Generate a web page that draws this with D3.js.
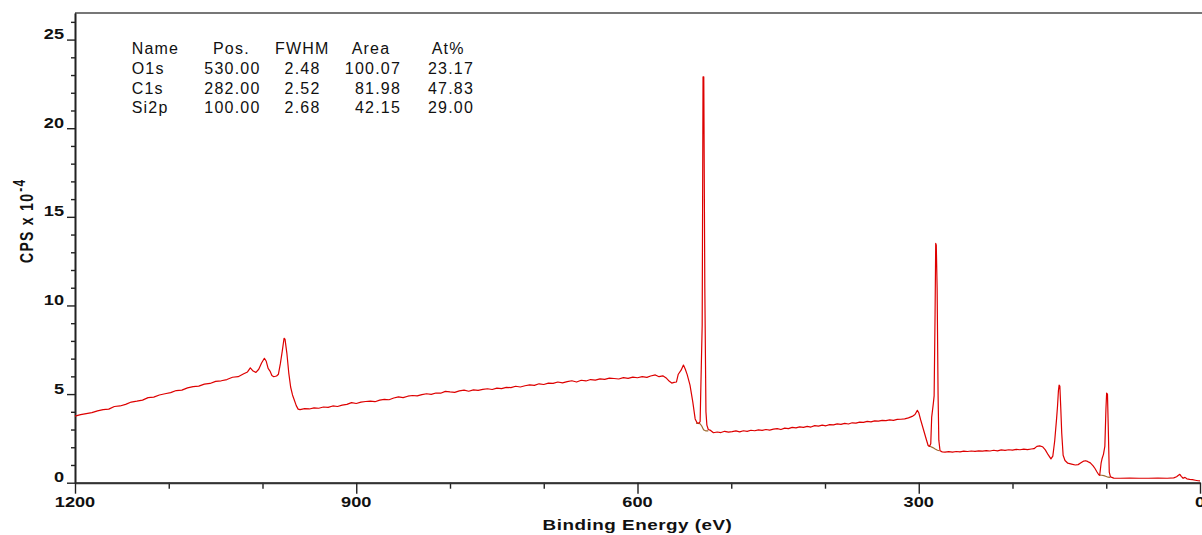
<!DOCTYPE html>
<html><head><meta charset="utf-8">
<script src="https://cdn.jsdelivr.net/npm/d3@7"></script>
<style>
html,body{margin:0;padding:0;background:#fff;}
svg{display:block;}
text{font-family:"Liberation Sans",Arial,sans-serif;}
</style></head>
<body>
<svg id="chart" width="1202" height="535"></svg>
<script>
// ---------- data (binding energy in eV, intensity in CPS x 10^-4) ----------
const energyEV = [
1200,1194,1188,1182,1176,1170,1164,1158,1152,1146,1140,1134,1128,1122,1116,1110,1104,1098,1092,1086,1080,1074,1068,1062,1056,1050,1044,1038,1032,1026,1020,1016,1013,1010,1007,1004,1001,998,996,994,992,990,988,985,983,981,979,977,976,974,972,970,968,966,964,962,960,
955,950,945,940,935,930,925,920,915,910,905,900,895,890,885,880,875,870,865,860,855,850,845,840,835,830,825,820,815,810,805,800,795,790,785,780,775,770,765,760,755,750,745,740,735,730,725,720,715,710,705,700,695,690,685,680,675,670,665,660,655,650,645,640,635,630,625,620,615,610,605,600,595,590,
586,581,577,573,569,566,563.5,561,558.5,556.5,553.5,551,549,547,544,541,538.5,536.5,534.5,533.2,532.2,531,530.1,529.3,528.2,527,526,524.5,522,
519,515,511,507,503,499,495,491,487,483,479,475,471,467,463,459,455,451,447,443,439,435,431,427,423,419,415,411,407,403,399,395,391,387,383,379,375,371,367,363,359,355,351,347,343,339,335,331,327,323,319,315,311,307,304,301.5,300,298,295,292,290,288.5,287.2,286.2,284.5,283.6,282.6,281.9,281.3,280.4,279.4,278.6,277.3,
275,272,268,264,260,256,252,248,244,240,236,232,228,224,220,216,212,208,204,200,196,192,188,184,180,177,174,171,168,165,162,159,157,155,153,152,151,150.3,149.5,148.5,147.5,146,144,141,137,133,130,127,124,122,120,117,114,112,110,108,107,105.5,104.5,103,101.5,100.3,99.6,98.7,97.8,96.8,95.5,92,85,75,65,55,45,35,28,25,23,21.5,20,18,16,14,11,8,5,2,0
];
const cpsE4 = [
3.76,3.84,3.90,3.95,4.05,4.12,4.15,4.30,4.33,4.42,4.55,4.60,4.66,4.80,4.83,4.95,5.02,5.08,5.20,5.22,5.35,5.42,5.45,5.56,5.60,5.72,5.75,5.82,5.95,5.98,6.15,6.25,6.48,6.30,6.22,6.40,6.75,7.02,6.85,6.45,6.30,6.05,5.98,6.02,6.12,6.70,7.40,8.15,8.10,7.30,6.20,5.40,4.95,4.65,4.35,4.15,4.12,
4.18,4.16,4.22,4.20,4.27,4.25,4.33,4.30,4.38,4.42,4.52,4.47,4.55,4.58,4.60,4.57,4.66,4.70,4.68,4.78,4.84,4.80,4.88,4.92,4.90,4.97,5.02,4.98,5.06,5.05,5.15,5.12,5.10,5.18,5.22,5.16,5.24,5.21,5.27,5.30,5.26,5.34,5.31,5.38,5.36,5.44,5.40,5.47,5.52,5.49,5.58,5.54,5.62,5.60,5.68,5.63,5.70,5.75,5.68,5.78,5.74,5.82,5.79,5.86,5.83,5.90,5.88,5.85,5.93,5.89,5.96,5.92,5.98,5.94,
6.02,6.08,5.98,6.03,5.89,5.72,5.62,5.66,5.68,6.12,6.35,6.64,6.40,6.10,5.51,4.55,3.60,3.38,3.36,3.45,5.95,8.9,22.9,22.9,11.0,4.0,3.25,3.00,2.95,
2.82,2.86,2.83,2.90,2.85,2.88,2.92,2.87,2.93,2.90,2.96,2.93,2.98,2.95,3.00,2.97,3.02,3.05,3.00,3.08,3.05,3.12,3.09,3.15,3.12,3.18,3.14,3.22,3.19,3.25,3.21,3.28,3.26,3.32,3.29,3.35,3.31,3.38,3.36,3.42,3.40,3.46,3.43,3.49,3.47,3.52,3.50,3.54,3.52,3.57,3.58,3.60,3.66,3.74,3.85,4.08,3.95,3.55,3.00,2.45,2.10,2.05,2.20,3.70,4.45,4.90,9.5,13.5,13.4,11.0,5.0,2.40,1.80,
1.74,1.72,1.75,1.72,1.76,1.74,1.78,1.76,1.79,1.77,1.80,1.78,1.81,1.79,1.83,1.80,1.85,1.82,1.86,1.84,1.88,1.86,1.89,1.87,1.90,1.92,2.05,2.08,2.03,1.85,1.58,1.34,1.50,2.35,3.6,4.3,5.2,5.5,5.45,4.2,2.8,1.55,1.25,1.10,1.05,1.00,1.02,1.12,1.22,1.24,1.20,1.12,0.95,0.80,0.62,0.45,0.42,1.10,1.35,1.60,2.05,4.2,5.05,5.0,3.0,0.60,0.33,0.26,0.25,0.26,0.25,0.25,0.26,0.25,0.27,0.34,0.42,0.47,0.36,0.25,0.30,0.22,0.19,0.17,0.14,0.11,0.10
];
// Shirley-type backgrounds under the fitted peaks
const bgO1sEV  = [537.6,535.5,533.3,531.5,529.5,527,524.5];
const bgO1sCPS = [3.36,3.35,3.33,3.20,2.98,2.92,2.92];
const bgC1sEV  = [289.8,287.5,285,282.5,280,278];
const bgC1sCPS = [2.07,2.04,1.98,1.90,1.83,1.80];
const bgSi2pEV  = [107.4,105,102.5,100,98,96];
const bgSi2pCPS = [0.43,0.42,0.40,0.35,0.31,0.30];

const xMajorTicks = [1200,900,600,300,0];
const xMinorTicks = [1100,1000,800,700,500,400,200,100];
const yMajorTicks = [0,5,10,15,20,25];
const yMinorTicks = [1,2,3,4,6,7,8,9,11,12,13,14,16,17,18,19,21,22,23,24,26];

const tableHeaders = ["Name","Pos.","FWHM","Area","At%"];
const peakNames = ["O1s","C1s","Si2p"];
const peakPos   = ["530.00","282.00","100.00"];
const peakFWHM  = ["2.48","2.52","2.68"];
const peakArea  = ["100.07","81.98","42.15"];
const peakAt    = ["23.17","47.83","29.00"];

const xTitle = "Binding Energy (eV)";
const yTitle = "CPS x 10";
const yTitleExp = "-4";

// ---------- drawing ----------
const svg = d3.select("#chart");
const x = d3.scaleLinear().domain([1200,0]).range([75,1200]);
const y = d3.scaleLinear().domain([0,26.5]).range([482.7,13]);
const SX = 1.3; // horizontal stretch of the original raster text

// top frame line
svg.append("line").attr("x1",x(1200)).attr("x2",1202).attr("y1",y(26.5)).attr("y2",y(26.5))
  .attr("stroke","#777").attr("stroke-width",2);

// y axis (minor + major)
const yMinorAxis = d3.axisLeft(y).tickValues(yMinorTicks).tickSize(4).tickSizeOuter(0).tickFormat("");
const yMajorAxis = d3.axisLeft(y).tickValues(yMajorTicks).tickSize(8).tickSizeOuter(0).tickFormat("");
const gy1 = svg.append("g").attr("transform",`translate(${x(1200)},0)`).call(yMinorAxis);
const gy2 = svg.append("g").attr("transform",`translate(${x(1200)},0)`).call(yMajorAxis);
// x axis
const xMinorAxis = d3.axisBottom(x).tickValues(xMinorTicks).tickSize(6).tickSizeOuter(0).tickFormat("");
const xMajorAxis = d3.axisBottom(x).tickValues(xMajorTicks).tickSize(11).tickSizeOuter(0).tickFormat("");
const gx1 = svg.append("g").attr("transform",`translate(0,${y(0)})`).call(xMinorAxis);
const gx2 = svg.append("g").attr("transform",`translate(0,${y(0)})`).call(xMajorAxis);
[gy1,gy2,gx1,gx2].forEach(g=>{
  g.selectAll("path").attr("stroke","#222").attr("stroke-width",1.6);
  g.selectAll("line").attr("stroke","#222").attr("stroke-width",1.4);
});
gx2.selectAll("path").attr("stroke","#333").attr("stroke-width",2);

// tick labels
yMajorTicks.forEach(v=>{
  svg.append("g").attr("transform",`translate(64,${y(v)-0.5}) scale(${SX},1)`)
    .append("text").attr("text-anchor","end").attr("font-size",14).attr("font-weight","bold")
    .attr("fill","#111").text(v);
});
xMajorTicks.forEach(v=>{
  svg.append("g").attr("transform",`translate(${x(v)},507) scale(${SX},1)`)
    .append("text").attr("text-anchor","middle").attr("font-size",14).attr("font-weight","bold")
    .attr("fill","#111").text(v);
});

// axis titles
svg.append("g").attr("transform",`translate(${x(600)},530) scale(${SX},1)`)
  .append("text").attr("text-anchor","middle").attr("font-size",14.5).attr("font-weight","bold")
  .attr("letter-spacing",0.4).attr("fill","#111").text(xTitle);
const yt = svg.append("g").attr("transform",`translate(33,263) scale(${SX},1) rotate(-90)`)
  .append("text").attr("font-size",14).attr("font-weight","bold").attr("letter-spacing",1.3).attr("fill","#111");
yt.append("tspan").text(yTitle);
yt.append("tspan").attr("font-size",12).attr("dy",-6).attr("dx",1).text(yTitleExp);

// spectrum
const pts = energyEV.map((e,i)=>[e,cpsE4[i]]);
const line = d3.line().x(d=>x(d[0])).y(d=>y(d[1]));
const bgColor = "#9c6b30";
[[bgO1sEV,bgO1sCPS],[bgC1sEV,bgC1sCPS],[bgSi2pEV,bgSi2pCPS]].forEach(([es,vs])=>{
  svg.append("path").datum(es.map((e,i)=>[e,vs[i]])).attr("d",line)
    .attr("fill","none").attr("stroke",bgColor).attr("stroke-width",1.2);
});
svg.append("path").datum(pts).attr("d",line).attr("fill","none")
  .attr("stroke","#dd0000").attr("stroke-width",1.2).attr("stroke-linejoin","round");

// quantification table
const tFont = 16, tLS = 1.2;
const rowBase = [54,74,94,113];
const hdrX = [131.7,213,275,351.7,431.7];
svg.selectAll("text.hdr").data(tableHeaders).join("text").attr("class","hdr")
  .attr("x",(d,i)=>hdrX[i]).attr("y",rowBase[0]).attr("font-size",tFont).attr("letter-spacing",tLS)
  .attr("fill","#111").text(d=>d);
const colRight = [260.5,320.5,401,474];
const cols = [peakPos,peakFWHM,peakArea,peakAt];
peakNames.forEach((n,r)=>{
  svg.append("text").attr("x",131.7).attr("y",rowBase[r+1]).attr("font-size",tFont)
    .attr("letter-spacing",tLS).attr("fill","#111").text(n);
  cols.forEach((c,ci)=>{
    svg.append("text").attr("x",colRight[ci]).attr("y",rowBase[r+1]).attr("text-anchor","end")
      .attr("font-size",tFont).attr("letter-spacing",tLS).attr("fill","#111").text(c[r]);
  });
});
</script>
</body></html>
